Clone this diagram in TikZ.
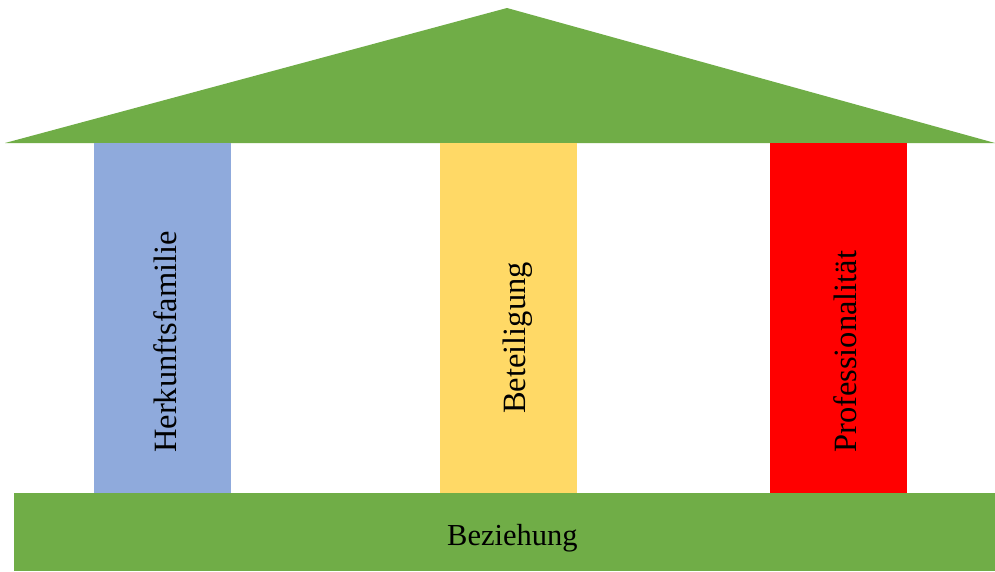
\documentclass[tikz,border=0pt]{standalone}
\usepackage{fontspec}
\setmainfont{Liberation Serif}
\definecolor{roofgreen}{HTML}{70AD47}
\definecolor{pblue}{HTML}{8FAADC}
\definecolor{pyellow}{HTML}{FFD966}
\definecolor{pred}{HTML}{FF0000}
\begin{document}
\begin{tikzpicture}[x=1pt,y=-1pt,
  lbl/.style={inner sep=0pt,font=\fontsize{30.5}{36}\selectfont,text=black},
  vlbl/.style={inner sep=0pt,font=\fontsize{32.5}{38}\selectfont,text=black,rotate=90,anchor=base west}]
\useasboundingbox[fill=white] (0,0) rectangle (995,571);
\fill[roofgreen] (5,143) coordinate (rl) -- (507,8) coordinate (ra) -- (995,143) coordinate (rr) -- cycle;
\fill[pblue] (94,143) rectangle (231,493);
\fill[pyellow] (440,143) rectangle (577,493);
\fill[pred] (770,143) rectangle (907,493);
\fill[roofgreen] (14,493) rectangle (995,571);
\node[vlbl] (herk) at (176,453) {Herkunftsfamilie};
\node[vlbl] (bet) at (525,414) {Beteiligung};
\node[vlbl] (prof) at (856,453) {Professionalität};
\node[lbl,anchor=base west] (bez) at (447,545) {Beziehung};
\end{tikzpicture}
\end{document}
